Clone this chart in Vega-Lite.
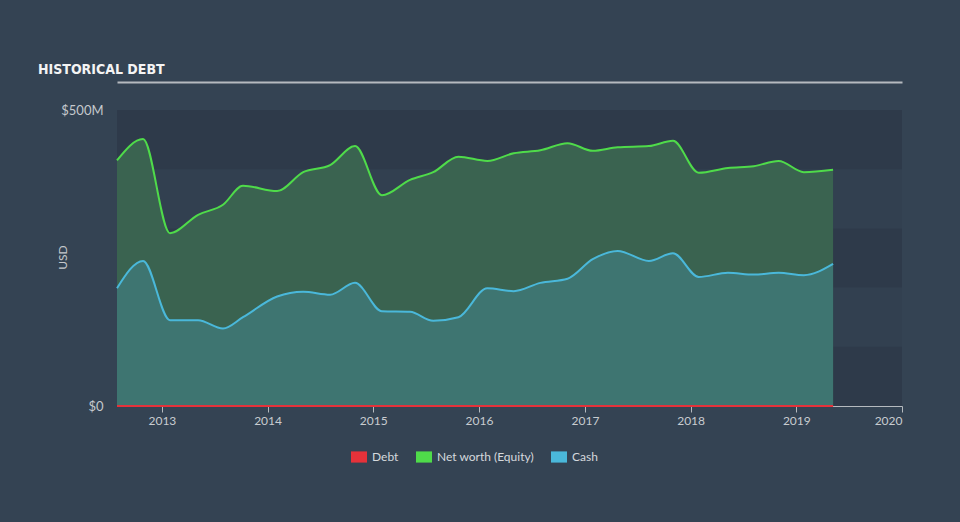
{
  "$schema": "https://vega.github.io/schema/vega-lite/v6.json",
  "width": 785,
  "height": 296,
  "autosize": {"type": "none"},
  "padding": {"left": 117, "top": 110, "right": 58, "bottom": 116},
  "background": "#344353",
  "config": {"view": {"fill": "#324050", "stroke": null}, "font": "Lato"},
  "title": {"text": "HISTORICAL DEBT", "anchor": "start", "frame": "group", "dx": -79, "offset": -6, "font": "DejaVu Sans Condensed", "fontSize": 14, "fontWeight": "bold", "color": "#f4f4f4", "baseline": "alphabetic"},
  "datasets": {
    "bands": [{"y0": 0, "y1": 100}, {"y0": 200, "y1": 300}, {"y0": 400, "y1": 500}],
    "series": [
      {"date": "2012-07-30", "equity": 415, "cash": 199, "debt": 0},
      {"date": "2012-10-28", "equity": 451, "cash": 245, "debt": 0},
      {"date": "2013-01-29", "equity": 292, "cash": 145, "debt": 0},
      {"date": "2013-05-06", "equity": 323, "cash": 145, "debt": 0},
      {"date": "2013-07-31", "equity": 340, "cash": 131, "debt": 0},
      {"date": "2013-10-08", "equity": 372, "cash": 150, "debt": 0},
      {"date": "2014-02-03", "equity": 363, "cash": 185, "debt": 0},
      {"date": "2014-05-04", "equity": 395, "cash": 193, "debt": 0},
      {"date": "2014-08-05", "equity": 407, "cash": 188, "debt": 0},
      {"date": "2014-10-30", "equity": 439, "cash": 208, "debt": 0},
      {"date": "2015-01-31", "equity": 356, "cash": 160, "debt": 0},
      {"date": "2015-05-08", "equity": 382, "cash": 159, "debt": 0},
      {"date": "2015-07-27", "equity": 395, "cash": 144, "debt": 0},
      {"date": "2015-10-22", "equity": 421, "cash": 150, "debt": 0},
      {"date": "2016-01-30", "equity": 414, "cash": 199, "debt": 0},
      {"date": "2016-04-30", "equity": 427, "cash": 194, "debt": 0},
      {"date": "2016-07-31", "equity": 432, "cash": 208, "debt": 0},
      {"date": "2016-11-02", "equity": 444, "cash": 215, "debt": 0},
      {"date": "2017-01-28", "equity": 431, "cash": 248, "debt": 0},
      {"date": "2017-04-24", "equity": 437, "cash": 262, "debt": 0},
      {"date": "2017-08-10", "equity": 439, "cash": 245, "debt": 0},
      {"date": "2017-11-01", "equity": 448, "cash": 258, "debt": 0},
      {"date": "2018-01-29", "equity": 394, "cash": 218, "debt": 0},
      {"date": "2018-05-10", "equity": 402, "cash": 225, "debt": 0},
      {"date": "2018-08-07", "equity": 405, "cash": 222, "debt": 0},
      {"date": "2018-11-01", "equity": 414, "cash": 225, "debt": 0},
      {"date": "2019-01-27", "equity": 395, "cash": 221, "debt": 0},
      {"date": "2019-05-08", "equity": 399, "cash": 240, "debt": 0}
    ]
  },
  "resolve": {"axis": {"x": "independent", "y": "shared"}},
  "layer": [
    {
      "data": {"name": "bands"},
      "mark": {"type": "rect", "color": "#2e3a4a"},
      "encoding": {
        "y": {"field": "y0", "type": "quantitative", "scale": {"domain": [0, 500], "nice": false, "zero": true},
          "axis": {"values": [0, 500], "labelExpr": "datum.value == 0 ? '$0' : '$' + datum.value + 'M'", "title": "USD", "domain": false, "ticks": false, "grid": false, "labelPadding": 14, "labelColor": "#c5c9cd", "labelFontSize": 13, "labelFont": "Lato", "titleColor": "#c5c9cd", "titleFontSize": 12, "titleFont": "Lato", "titleFontWeight": "normal", "titleX": -55, "titleY": 147, "titleBaseline": "middle", "titleAngle": -90}},
        "y2": {"field": "y1"}
      }
    },
    {
      "data": {"name": "series"},
      "mark": {"type": "area", "interpolate": "monotone", "color": "#3a6350", "opacity": 1},
      "encoding": {
        "x": {"field": "date", "type": "temporal", "scale": {"domain": [{"year": 2012, "month": 7, "date": 30}, {"year": 2020, "month": 1, "date": 1}]},
          "axis": {"orient": "top", "offset": 28, "labels": false, "ticks": false, "grid": false, "title": null, "domainColor": "#b5babf", "domainWidth": 2}},
        "y": {"field": "equity", "type": "quantitative"}
      }
    },
    {
      "data": {"name": "series"},
      "mark": {"type": "area", "interpolate": "monotone", "color": "#3e7571", "opacity": 1},
      "encoding": {
        "x": {"field": "date", "type": "temporal", "axis": null},
        "y": {"field": "cash", "type": "quantitative"}
      }
    },
    {
      "data": {"name": "series"},
      "transform": [{"fold": ["debt", "equity", "cash"], "as": ["series", "value"]}],
      "mark": {"type": "line", "interpolate": "monotone", "strokeWidth": 2},
      "encoding": {
        "x": {"field": "date", "type": "temporal",
          "axis": {"orient": "bottom", "values": [{"year": 2013}, {"year": 2014}, {"year": 2015}, {"year": 2016}, {"year": 2017}, {"year": 2018}, {"year": 2019}, {"year": 2020}], "format": "%Y", "domainColor": "#b5babf", "tickColor": "#b5babf", "tickSize": 6, "labelPadding": 3, "labelColor": "#c8ccd0", "labelFontSize": 12, "labelFont": "Lato", "title": null, "grid": false}},
        "y": {"field": "value", "type": "quantitative"},
        "color": {"field": "series", "type": "nominal",
          "scale": {"domain": ["debt", "equity", "cash"], "range": ["#e5323a", "#4fdb4a", "#4ab8da"]},
          "legend": {"orient": "none", "legendX": 234, "legendY": 339, "direction": "horizontal", "title": null, "padding": 0,
            "labelExpr": "datum.label == 'debt' ? 'Debt' : datum.label == 'equity' ? 'Net worth (Equity)' : 'Cash'",
            "symbolType": "M-1,-0.7H1V0.7H-1Z", "symbolSize": 256, "symbolStrokeWidth": 0,
            "labelColor": "#d5d9dd", "labelFontSize": 12, "labelFont": "Lato", "columnPadding": 17, "labelOffset": 5,
            "encode": {"symbols": {"update": {"fill": {"scale": "color", "field": "value"}, "fillOpacity": {"value": 1}, "opacity": {"value": 1}}}}}}
      }
    }
  ]
}
